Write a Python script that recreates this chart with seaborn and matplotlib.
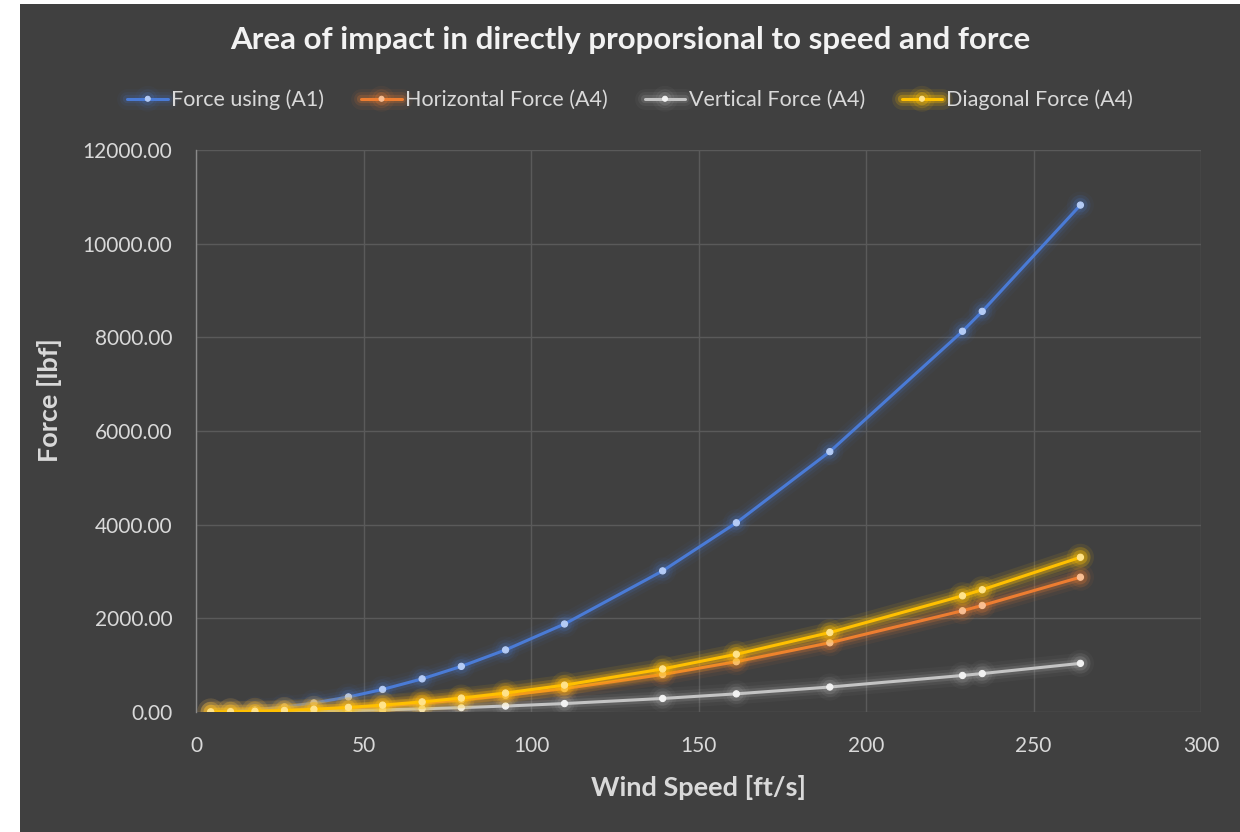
import matplotlib
matplotlib.use("Agg")
import matplotlib.pyplot as plt
import matplotlib.patheffects as pe
from matplotlib.patches import Rectangle
import numpy as np
import pandas as pd
import seaborn as sns

# Wind speed samples [ft/s]
wind_speed = [4.4, 10.3, 17.6, 26.4, 35.2, 45.5, 55.7, 67.5, 79.2, 92.4,
              110.0, 139.3, 161.3, 189.2, 228.8, 234.7, 264.0]

# Force [lbf] for each configuration
force_a1 = [3.0, 16.5, 48.1, 108.2, 192.4, 321.5, 481.8, 707.6, 974.2, 1325.9,
            1879.1, 3013.4, 4040.6, 5559.3, 8129.8, 8554.5, 10823.8]
horizontal_a4 = [0.8, 4.4, 12.8, 28.8, 51.2, 85.5, 128.1, 188.2, 259.1, 352.6,
                 499.7, 801.4, 1074.5, 1478.4, 2162.0, 2275.0, 2878.4]
vertical_a4 = [0.3, 1.6, 4.6, 10.4, 18.5, 30.8, 46.2, 67.9, 93.5, 127.2,
               180.3, 289.1, 387.7, 533.4, 780.0, 820.8, 1038.5]
diagonal_a4 = [0.9, 5.0, 14.7, 33.0, 58.7, 98.1, 147.0, 216.0, 297.3, 404.7,
               573.5, 919.7, 1233.3, 1696.8, 2481.3, 2611.0, 3303.6]

series_names = ["Force using (A1)", "Horizontal Force (A4)",
                "Vertical Force (A4)", "Diagonal Force (A4)"]
series_values = [force_a1, horizontal_a4, vertical_a4, diagonal_a4]

line_colors = ["#4A7BD6", "#ED7D31", "#C4C4C4", "#FFC000"]
marker_colors = ["#B4CBF5", "#F9BE93", "#F2F2F2", "#FFE38A"]
glow_alpha = [0.10, 0.14, 0.10, 0.20]

df = pd.DataFrame({
    "Wind Speed": np.tile(wind_speed, len(series_names)),
    "Force": np.concatenate(series_values),
    "Series": np.repeat(series_names, len(wind_speed)),
})

BG = "#404040"
TEXT = "#D9D9D9"

sns.set_theme(style="dark")
plt.rcParams["font.family"] = ["Lato", "DejaVu Sans"]

fig = plt.figure(figsize=(12.4, 8.32), dpi=100, facecolor="white")
# dark chart area panel behind everything
fig.patches.append(Rectangle((20 / 1240, 0), 1 - 20 / 1240, 1 - 4 / 832,
                             transform=fig.transFigure, facecolor=BG,
                             edgecolor="none", zorder=-10))
ax = fig.add_axes([196 / 1240, 1 - 712 / 832, (1201 - 196) / 1240, (712 - 150) / 832])
ax.set_facecolor(BG)

sns.lineplot(data=df, x="Wind Speed", y="Force", hue="Series",
             hue_order=series_names, palette=line_colors, marker="o",
             markersize=4.5, linewidth=2.2, legend=False, ax=ax, zorder=3)

for line, mc, ga, lc in zip(ax.lines, marker_colors, glow_alpha, line_colors):
    line.set_markerfacecolor(mc)
    line.set_markeredgecolor(mc)
    line.set_path_effects([
        pe.Stroke(linewidth=15, foreground=lc, alpha=ga * 0.45),
        pe.Stroke(linewidth=10, foreground=lc, alpha=ga * 0.8),
        pe.Stroke(linewidth=6, foreground=lc, alpha=ga * 1.5),
        pe.Normal(),
    ])

ax.set_xlim(0, 300)
ax.set_ylim(0, 12000)
ax.set_xticks(np.arange(0, 301, 50))
ax.set_yticks(np.arange(0, 12001, 2000))
ax.set_yticklabels([f"{v:.2f}" for v in np.arange(0, 12001, 2000)])

ax.grid(True, color="#5A5A5A", linewidth=1.0)
ax.set_axisbelow(True)
for side in ["top", "right", "bottom"]:
    ax.spines[side].set_visible(False)
ax.spines["left"].set_color("#8A8A8A")
ax.spines["left"].set_linewidth(1.0)

ax.tick_params(axis="both", colors=TEXT, labelsize=15, length=0)
ax.tick_params(axis="y", pad=17)
ax.tick_params(axis="x", pad=17)

ax.set_xlabel("Wind Speed [ft/s]", color=TEXT, fontsize=19.5, fontweight="bold")
ax.set_ylabel("Force [lbf]", color=TEXT, fontsize=19.5, fontweight="bold")
ax.xaxis.label.set_va("center")
ax.yaxis.label.set_va("center")
ax.xaxis.set_label_coords(0.5, -(788 - 712) / 562)
ax.yaxis.set_label_coords((50 - 196) / 1005, (712 - 400) / 562)

fig.text(0.508, 1 - 40 / 832, "Area of impact in directly proporsional to speed and force",
         ha="center", va="center", color="#F2F2F2", fontsize=22.5, fontweight="bold")

leg = ax.legend(handles=list(ax.lines), labels=series_names, loc="center",
                bbox_to_anchor=(0.508, 1 - 100 / 832), bbox_transform=fig.transFigure,
                ncol=4, frameon=False, fontsize=15.5, handlelength=1.9,
                handletextpad=0.15, columnspacing=1.7, markerscale=0.8)
for t in leg.get_texts():
    t.set_color(TEXT)

fig.savefig("out.png", dpi=100, facecolor=fig.get_facecolor())
